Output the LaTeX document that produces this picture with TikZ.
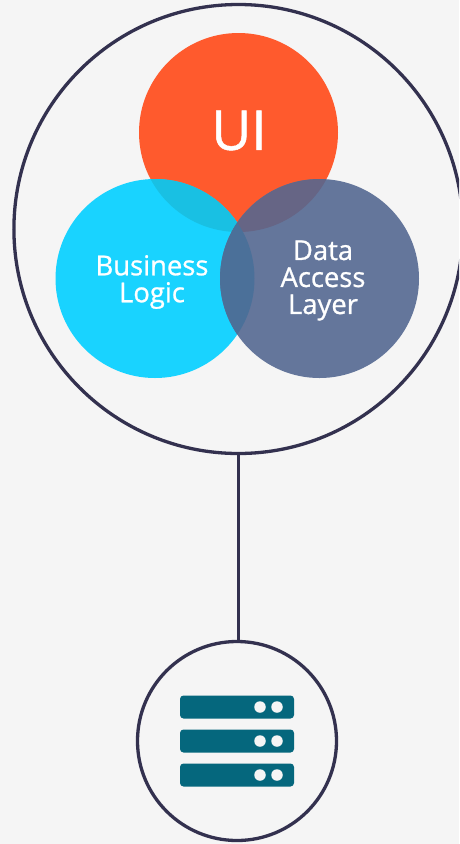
\documentclass[tikz,border=0pt]{standalone}
\usepackage{fontspec}
\setmainfont{Open Sans}
\newfontfamily\lblfont{Open Sans}[FakeBold=0.9]
\definecolor{bgc}{HTML}{F5F5F5}
\definecolor{ringc}{HTML}{33314F}
\definecolor{uic}{HTML}{FF5A2D}
\definecolor{bizc}{HTML}{19D3FF}
\definecolor{datac}{HTML}{64769B}
\definecolor{uibiz}{HTML}{19C0E3}
\definecolor{uidata}{HTML}{666585}
\definecolor{bizdata}{HTML}{4B7099}
\definecolor{srvc}{HTML}{05677D}
\tikzset{
  ring/.style={circle,draw=ringc,line width=3.3pt,minimum size=#1,inner sep=0pt},
  blob/.style={circle,minimum size=199pt,inner sep=0pt},
  lbl/.style={text=white,align=center,font=\lblfont\fontsize{27.4}{27}\selectfont},
  rack/.style={fill=srvc,rounded corners=3.5pt},
  led/.style={circle,fill=bgc,minimum size=11.5pt,inner sep=0pt}
}
\begin{document}
\begin{tikzpicture}[x=1pt,y=-1pt]
\useasboundingbox (0,0) rectangle (459,844);
\fill[bgc] (0,0) rectangle (459,844);
\clip (0,0) rectangle (459,844);
\node[ring=449pt] (outer) at (238.4,229) {};
\node[ring=199pt] (server) at (237,741) {};
\draw[ringc,line width=3.3pt] (outer.south) -- (outer.south |- server.north);
\node[blob,fill=uic] (ui) at (238.5,132.5) {};
\node[blob,fill=bizc] (biz) at (155,278.5) {};
\node[blob,fill=datac] (data) at (319.5,278.5) {};
\begin{scope}
  \clip (238.5,132.5) circle (99.5pt);
  \fill[uibiz] (155,278.5) circle (99.5pt);
  \fill[uidata] (319.5,278.5) circle (99.5pt);
\end{scope}
\begin{scope}
  \clip (155,278.5) circle (99.5pt);
  \fill[bizdata] (319.5,278.5) circle (99.5pt);
\end{scope}
\node[text=white,font=\lblfont\fontsize{55}{55}\selectfont] (uit) at (239,130.5) {UI};
\node[lbl] (bizt) at (152,282) {Business\\Logic};
\node[lbl] (datat) at (323,280.5) {Data\\Access\\Layer};
\foreach \y/\n in {707/a,741/b,775/c}{
  \fill[rack] (180,\y-11.5) rectangle (294,\y+11.5);
  \node[led] (l1\n) at (260,\y) {};
  \node[led] (l2\n) at (277,\y) {};
}
\end{tikzpicture}
\end{document}
